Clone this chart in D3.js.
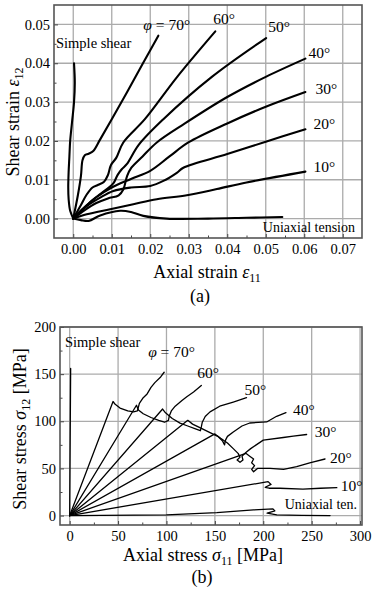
<!DOCTYPE html>
<html>
<head>
<meta charset="utf-8">
<script src="https://cdn.jsdelivr.net/npm/d3@7"></script>
<style>
  body { margin: 0; background: #fff; }
  svg { display: block; }
  svg text { font-family: "Liberation Serif", "DejaVu Serif", serif; }
</style>
</head>
<body>
<svg id="chart"></svg>
<script>
// ---- data: (a) strain paths [eps11, eps12] ----
const strainTicksX = [0, 0.01, 0.02, 0.03, 0.04, 0.05, 0.06, 0.07];
const strainTicksY = [0, 0.01, 0.02, 0.03, 0.04, 0.05];
const strainMinorX = [0.005, 0.015, 0.025, 0.035, 0.045, 0.055, 0.065];
const strainMinorY = [0.005, 0.015, 0.025, 0.035, 0.045];

const shearStrain = [[0,0],[-0.0008,0.002],[-0.0012,0.005],[-0.0013,0.008],[-0.0012,0.012],[-0.0010,0.016],[-0.0008,0.020],[-0.0003,0.025],[0.0002,0.030],[0.0004,0.035],[0.0002,0.040]];
const phi70Strain = [[0,0],[0.0012,0.006],[0.0020,0.011],[0.0024,0.015],[0.0030,0.0163],[0.0040,0.0167],[0.0052,0.0174],[0.0070,0.0204],[0.0100,0.0256],[0.0140,0.0326],[0.0180,0.0398],[0.0221,0.0471]];
const phi60Strain = [[0,0],[0.0020,0.0035],[0.0035,0.0062],[0.0050,0.0080],[0.0065,0.0087],[0.0080,0.0095],[0.0090,0.0112],[0.0098,0.0138],[0.0112,0.0157],[0.0130,0.0196],[0.0186,0.0256],[0.0270,0.0365],[0.0369,0.0482]];
const phi50Strain = [[0,0],[0.0025,0.0025],[0.0050,0.0048],[0.0070,0.0063],[0.0090,0.0078],[0.0105,0.0092],[0.0115,0.0112],[0.0126,0.0127],[0.0139,0.0140],[0.0170,0.0190],[0.0234,0.0256],[0.0360,0.0365],[0.0501,0.0465]];
const phi40Strain = [[0,0],[0.0030,0.0022],[0.0060,0.0040],[0.0090,0.0052],[0.0118,0.0060],[0.0130,0.0075],[0.0140,0.0110],[0.0151,0.0131],[0.0180,0.0160],[0.0217,0.0196],[0.0290,0.0245],[0.0400,0.0313],[0.0500,0.0365],[0.0603,0.0412]];
const phi30Strain = [[0,0],[0.0030,0.0030],[0.0060,0.0055],[0.0100,0.0080],[0.0150,0.0102],[0.0200,0.0123],[0.0250,0.0160],[0.0299,0.0196],[0.0400,0.0245],[0.0500,0.0288],[0.0603,0.0326]];
const phi20Strain = [[0,0],[0.0035,0.0032],[0.0070,0.0054],[0.0104,0.0071],[0.0150,0.0080],[0.0200,0.0084],[0.0234,0.0097],[0.0269,0.0118],[0.0286,0.0131],[0.0400,0.0166],[0.0500,0.0198],[0.0603,0.0230]];
const phi10Strain = [[0,0],[0.0035,0.0011],[0.0096,0.0024],[0.0156,0.0037],[0.0217,0.0050],[0.0295,0.0060],[0.0373,0.0076],[0.0450,0.0093],[0.0603,0.0121]];
const uniStrain = [[0,0],[0.0020,-0.0004],[0.0040,-0.0006],[0.0070,0.0008],[0.0122,0.0020],[0.0150,0.0017],[0.0182,0.0007],[0.0243,0.0000],[0.0350,0.0000],[0.0450,0.0002],[0.0543,0.0004]];

// ---- data: (b) stress paths [sigma11, sigma12] MPa ----
const stressTicksX = [0, 50, 100, 150, 200, 250, 300];
const stressTicksY = [0, 50, 100, 150, 200];
const stressMinorX = [25, 75, 125, 175, 225, 275];
const stressMinorY = [25, 75, 125, 175];

const shearStress = [[0,0],[0.5,80],[1,156]];
const phi70Stress = [[0,0],[44.8,121],[47,118],[52,114],[60,111],[66,110],[70,111],[71,115],[72,119],[76,125],[80,129],[84,136],[88,141],[94,147],[97.6,152]];
const phi60Stress = [[0,0],[69,117],[71,112],[76,108],[84,104],[92,101],[98,99],[102,101],[103,106],[105,111],[109,116],[116,122],[121,126],[128,131],[136,138]];
const phi50Stress = [[0,0],[96,113],[99,109],[106,103],[114,98],[122,95],[130,92],[135,90],[136,94],[137,99],[140,105],[145,110],[155,116],[169,120.4],[182.7,125]];
const phi40Stress = [[0,0],[122,101],[127,97],[135,93],[145,88],[153,84],[158,79],[160,75],[161,80],[163,84],[169,88.7],[178,95],[186,98.2],[203.5,99.3],[213.8,105.3],[223.4,109.2]];
const phi30Stress = [[0,0],[150,86.6],[156,82],[163,77],[169,71],[174,66],[176,62],[173,59],[176,56.5],[179,59],[178,63],[182,67],[187,71],[200,80],[220.7,82.8],[231,84.2],[244.8,86]];
const phi20Stress = [[0,0],[182,66],[186,63],[190,60],[188,56],[191,53],[188,49],[190,46.5],[194,50],[207,50],[221,49],[234.5,51.8],[248,56],[263.8,60]];
const phi10Stress = [[0,0],[205,36],[208,33],[202,30],[206,29],[217,29],[241,28],[259,29],[276,29.6]];
const uniStress = [[0,0],[100,0.7],[152,3.2],[190,6],[210,7.1],[212,5],[204,2.5],[214,0.7],[240,0.2],[269,0]];

const angleLabels = ["70°", "60°", "50°", "40°", "30°", "20°", "10°"];

const width = 375, height = 594;
const serif = '"Liberation Serif", "DejaVu Serif", serif';
const svg = d3.select("#chart").attr("width", width).attr("height", height);

function addText(g, x, y, txt, size, anchor) {
  return g.append("text")
    .attr("x", x).attr("y", y)
    .attr("text-anchor", anchor || "start")
    .attr("fill", "#000")
    .style("font-family", serif)
    .style("font-size", size + "px")
    .text(txt);
}

function drawPanel(cfg) {
  const g = svg.append("g");
  const x = d3.scaleLinear().domain(cfg.xDomain).range(cfg.xRange);
  const y = d3.scaleLinear().domain(cfg.yDomain).range(cfg.yRange);

  // grid
  g.selectAll(".vgrid").data(cfg.ticksX).enter().append("line")
    .attr("x1", d => x(d)).attr("x2", d => x(d))
    .attr("y1", cfg.yRange[0]).attr("y2", cfg.yRange[1])
    .attr("stroke", "#ababab").attr("stroke-width", 1.3);
  g.selectAll(".hgrid").data(cfg.ticksY).enter().append("line")
    .attr("x1", cfg.xRange[0]).attr("x2", cfg.xRange[1])
    .attr("y1", d => y(d)).attr("y2", d => y(d))
    .attr("stroke", "#ababab").attr("stroke-width", 1.3);

  // curves
  const line = d3.line().x(d => x(d[0])).y(d => y(d[1])).curve(cfg.curve);
  const clipId = "clip" + cfg.id;
  svg.append("clipPath").attr("id", clipId).append("rect")
    .attr("x", cfg.xRange[0]).attr("y", cfg.yRange[1])
    .attr("width", cfg.xRange[1] - cfg.xRange[0]).attr("height", cfg.yRange[0] - cfg.yRange[1]);
  g.append("g").attr("clip-path", `url(#${clipId})`)
    .selectAll("path").data(cfg.series).enter().append("path")
    .attr("d", d => line(d.pts))
    .attr("fill", "none").attr("stroke", "#000")
    .attr("stroke-width", cfg.lineWidth)
    .attr("stroke-linejoin", "round").attr("stroke-linecap", "round");

  // axes
  const xAxis = g.append("g").attr("transform", `translate(0,${cfg.yRange[0]})`)
    .call(d3.axisBottom(x).tickValues(cfg.ticksX).tickFormat(cfg.fmt).tickSize(-4).tickPadding(6));
  const xMinor = g.append("g").attr("transform", `translate(0,${cfg.yRange[0]})`)
    .call(d3.axisBottom(x).tickValues(cfg.minorX).tickFormat("").tickSize(-2.5));
  const yAxis = g.append("g").attr("transform", `translate(${cfg.xRange[0]},0)`)
    .call(d3.axisLeft(y).tickValues(cfg.ticksY).tickFormat(cfg.fmt).tickSize(-4).tickPadding(4));
  const yMinor = g.append("g").attr("transform", `translate(${cfg.xRange[0]},0)`)
    .call(d3.axisLeft(y).tickValues(cfg.minorY).tickFormat("").tickSize(-2.5));

  [xAxis, xMinor, yAxis, yMinor].forEach(a => {
    a.attr("font-family", null);
    a.select(".domain").remove();
    a.selectAll(".tick line").attr("stroke", "#444").attr("stroke-width", 1);
    a.selectAll(".tick text")
      .attr("fill", "#000")
      .style("font-family", serif)
      .style("font-size", "14.5px");
  });

  // frame
  g.append("rect")
    .attr("x", cfg.xRange[0]).attr("y", cfg.yRange[1])
    .attr("width", cfg.xRange[1] - cfg.xRange[0]).attr("height", cfg.yRange[0] - cfg.yRange[1])
    .attr("fill", "none").attr("stroke", "#555").attr("stroke-width", 1.6);

  // curve labels near each curve end
  cfg.series.forEach(s => {
    if (!s.label) return;
    const end = s.pts[s.pts.length - 1];
    const t = addText(g, x(end[0]) + s.dx, y(end[1]) + s.dy, null, 15.5);
    if (s.phi) {
      t.append("tspan").style("font-style", "italic").text("φ");
      t.append("tspan").text(" = " + s.label);
    } else {
      t.text(s.label);
    }
  });

  return { g, x, y };
}

function symbolText(g, tx, ty, parts, rotate) {
  const t = g.append("text")
    .attr("text-anchor", "middle")
    .style("font-family", serif)
    .style("font-size", "18px").attr("fill", "#000")
    .attr("transform", rotate ? `translate(${tx},${ty}) rotate(-90)` : `translate(${tx},${ty})`);
  parts.forEach(p => {
    const ts = t.append("tspan").text(p.t);
    if (p.it) ts.style("font-style", "italic");
    if (p.sub) ts.style("font-size", "12px").attr("dy", 4);
    if (p.up) ts.attr("dy", -4);
  });
  return t;
}

// ---------- panel (a) ----------
const panelA = drawPanel({
  id: "a",
  xDomain: [-0.005, 0.075], xRange: [54, 362],
  yDomain: [-0.005, 0.055], yRange: [238, 5],
  ticksX: strainTicksX, ticksY: strainTicksY,
  minorX: strainMinorX, minorY: strainMinorY,
  fmt: d3.format(".2f"),
  lineWidth: 2.1,
  curve: d3.curveCatmullRom.alpha(0.5),
  series: [
    { pts: shearStrain },
    { pts: phi70Strain, label: angleLabels[0], phi: true, dx: -15, dy: -6 },
    { pts: phi60Strain, label: angleLabels[1], dx: -2, dy: -7 },
    { pts: phi50Strain, label: angleLabels[2], dx: 2, dy: -6 },
    { pts: phi40Strain, label: angleLabels[3], dx: 3, dy: -1 },
    { pts: phi30Strain, label: angleLabels[4], dx: 10, dy: 2 },
    { pts: phi20Strain, label: angleLabels[5], dx: 8, dy: 0 },
    { pts: phi10Strain, label: angleLabels[6], dx: 8, dy: 0 },
    { pts: uniStrain }
  ]
});
addText(panelA.g, 56, 48, "Simple shear", 14.5);
addText(panelA.g, 355, 232, "Uniaxial tension", 14, "end");
symbolText(panelA.g, 207, 278, [{ t: "Axial strain  " }, { t: "ε", it: true }, { t: "11", sub: true }], false);
symbolText(panelA.g, 19, 122, [{ t: "Shear strain  " }, { t: "ε", it: true }, { t: "12", sub: true }], true);
addText(panelA.g, 200, 302, "(a)", 18, "middle");

// ---------- panel (b) ----------
const panelB = drawPanel({
  id: "b",
  xDomain: [-10, 302], xRange: [60, 362],
  yDomain: [-10, 200], yRange: [525, 327],
  ticksX: stressTicksX, ticksY: stressTicksY,
  minorX: stressMinorX, minorY: stressMinorY,
  fmt: d3.format("d"),
  lineWidth: 1.3,
  curve: d3.curveLinear,
  series: [
    { pts: shearStress },
    { pts: phi70Stress, label: angleLabels[0], phi: true, dx: -16, dy: -15 },
    { pts: phi60Stress, label: angleLabels[1], dx: -4, dy: -7 },
    { pts: phi50Stress, label: angleLabels[2], dx: -2, dy: -3 },
    { pts: phi40Stress, label: angleLabels[3], dx: 7, dy: 2 },
    { pts: phi30Stress, label: angleLabels[4], dx: 8, dy: 3 },
    { pts: phi20Stress, label: angleLabels[5], dx: 5, dy: 4 },
    { pts: phi10Stress, label: angleLabels[6], dx: 4, dy: 3 },
    { pts: uniStress }
  ]
});
addText(panelB.g, 65, 347, "Simple shear", 14.5);
addText(panelB.g, 357, 509, "Uniaxial ten.", 14, "end");
symbolText(panelB.g, 203, 561, [{ t: "Axial stress  " }, { t: "σ", it: true }, { t: "11", sub: true }, { t: " [MPa]", up: true }], false);
symbolText(panelB.g, 26, 429, [{ t: "Shear stress  " }, { t: "σ", it: true }, { t: "12", sub: true }, { t: " [MPa]", up: true }], true);
addText(panelB.g, 202, 583, "(b)", 18, "middle");
</script>
</body>
</html>
